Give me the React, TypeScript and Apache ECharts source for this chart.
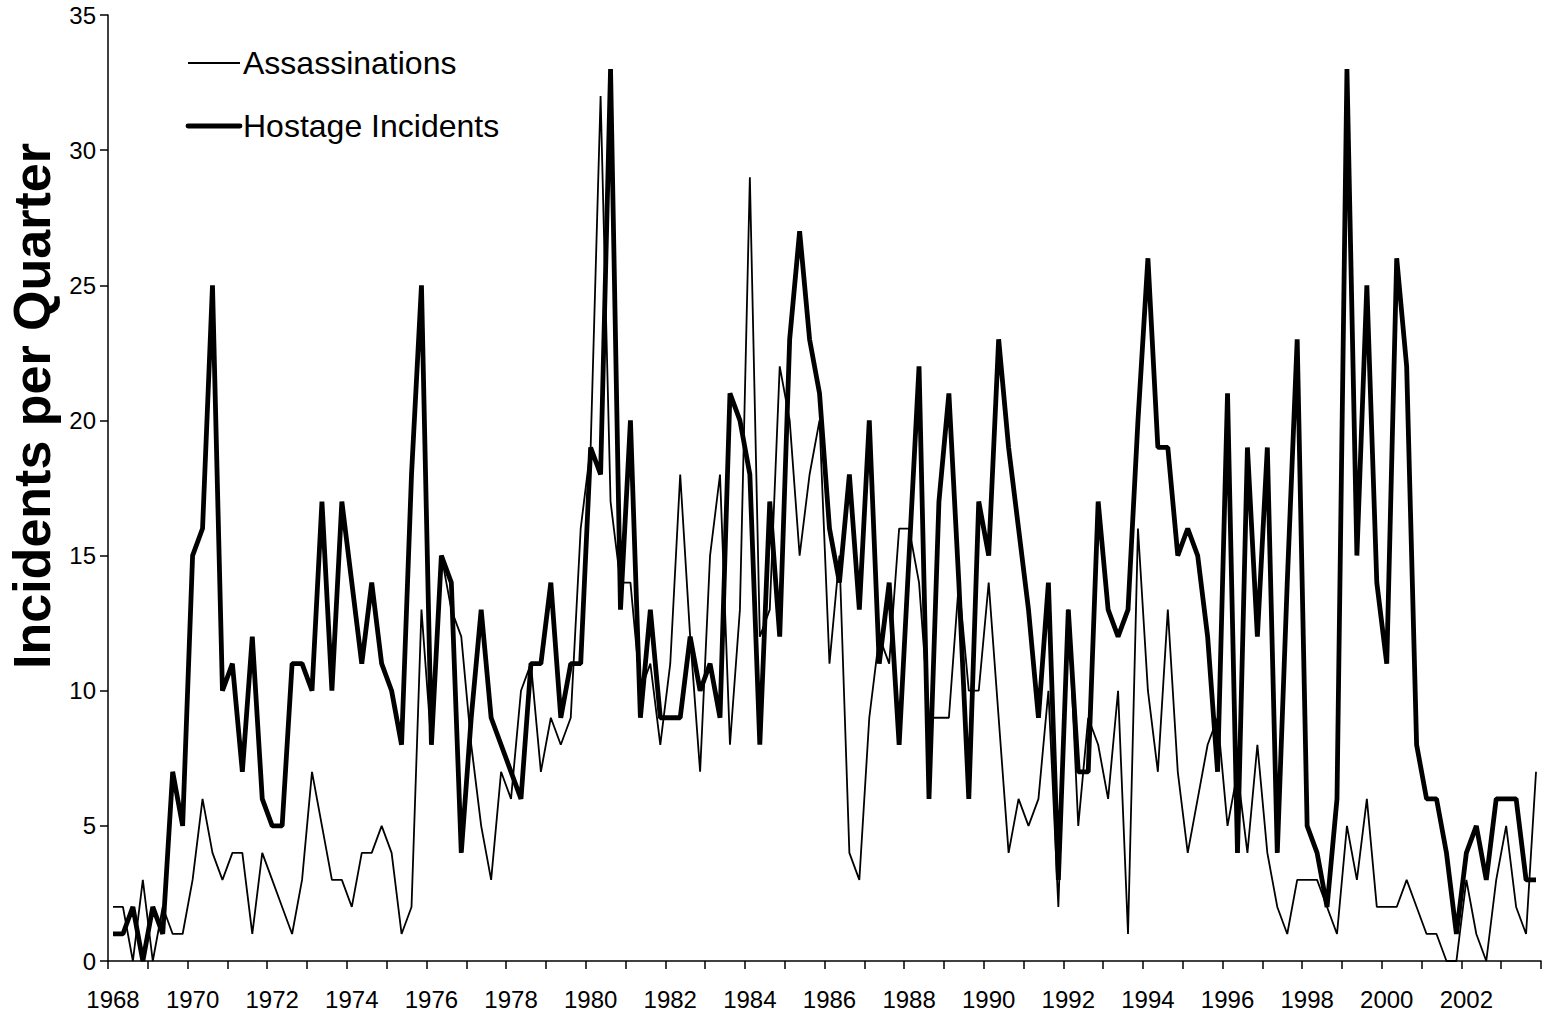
import React, { useEffect, useRef } from "react";
import * as echarts from "echarts";

const years = [
  1968, 1969, 1970, 1971, 1972, 1973, 1974, 1975, 1976, 1977, 1978, 1979,
  1980, 1981, 1982, 1983, 1984, 1985, 1986, 1987, 1988, 1989, 1990, 1991,
  1992, 1993, 1994, 1995, 1996, 1997, 1998, 1999, 2000, 2001, 2002, 2003,
];
const quarterNames = ["Q1", "Q2", "Q3", "Q4"];
const categories = years.flatMap((y) => quarterNames.map((q) => `${y} ${q}`));

const assassinations = [
  2, 2, 0, 3, 0, 2, 1, 1, 3, 6, 4, 3,
  4, 4, 1, 4, 3, 2, 1, 3, 7, 5, 3, 3,
  2, 4, 4, 5, 4, 1, 2, 13, 8, 15, 13, 12,
  8, 5, 3, 7, 6, 10, 11, 7, 9, 8, 9, 16,
  19, 32, 17, 14, 14, 10, 11, 8, 11, 18, 12, 7,
  15, 18, 8, 13, 29, 12, 13, 22, 20, 15, 18, 20,
  11, 15, 4, 3, 9, 12, 11, 16, 16, 14, 9, 9,
  9, 14, 10, 10, 14, 9, 4, 6, 5, 6, 10, 2,
  13, 5, 9, 8, 6, 10, 1, 16, 10, 7, 13, 7,
  4, 6, 8, 9, 5, 7, 4, 8, 4, 2, 1, 3,
  3, 3, 2, 1, 5, 3, 6, 2, 2, 2, 3, 2,
  1, 1, 0, 0, 3, 1, 0, 3, 5, 2, 1, 7,
];

const hostageIncidents = [
  1, 1, 2, 0, 2, 1, 7, 5, 15, 16, 25, 10,
  11, 7, 12, 6, 5, 5, 11, 11, 10, 17, 10, 17,
  14, 11, 14, 11, 10, 8, 18, 25, 8, 15, 14, 4,
  9, 13, 9, 8, 7, 6, 11, 11, 14, 9, 11, 11,
  19, 18, 33, 13, 20, 9, 13, 9, 9, 9, 12, 10,
  11, 9, 21, 20, 18, 8, 17, 12, 23, 27, 23, 21,
  16, 14, 18, 13, 20, 11, 14, 8, 15, 22, 6, 17,
  21, 14, 6, 17, 15, 23, 19, 16, 13, 9, 14, 3,
  13, 7, 7, 17, 13, 12, 13, 20, 26, 19, 19, 15,
  16, 15, 12, 7, 21, 4, 19, 12, 19, 4, 14, 23,
  5, 4, 2, 6, 33, 15, 25, 14, 11, 26, 22, 8,
  6, 6, 4, 1, 4, 5, 3, 6, 6, 6, 3, 3,
];

const seriesNames = ["Assassinations", "Hostage Incidents"];
const yAxisTitle = "Incidents per Quarter";
const yMin = 0;
const yMax = 35;
const yStep = 5;

const FONT = "Liberation Sans, Arial, sans-serif";
const THIN = 1.8;
const THICK = 4.8;

export default function App() {
  const ref = useRef<HTMLDivElement>(null);

  useEffect(() => {
    if (!ref.current) return;
    const chart = echarts.init(ref.current, null, { renderer: "svg" });
    chart.setOption({
      animation: false,
      backgroundColor: "#ffffff",
      textStyle: { fontFamily: FONT, color: "#000" },
      grid: { left: 108, right: 2, top: 15, bottom: 52, containLabel: false },
      xAxis: {
        type: "category",
        data: categories,
        boundaryGap: true,
        axisLine: { show: true, lineStyle: { color: "#000", width: 1.5 } },
        axisTick: { show: true, interval: 3, length: 8, lineStyle: { color: "#000", width: 1.5 } },
        axisLabel: {
          interval: 7,
          formatter: (v: string) => v.slice(0, 4),
          fontSize: 24,
          color: "#000",
          fontFamily: FONT,
          margin: 26,
        },
        splitLine: { show: false },
      },
      yAxis: {
        type: "value",
        min: yMin,
        max: yMax,
        interval: yStep,
        axisLine: { show: true, lineStyle: { color: "#000", width: 1.5 } },
        axisTick: { show: true, length: 8, lineStyle: { color: "#000", width: 1.5 } },
        axisLabel: { fontSize: 24, color: "#000", fontFamily: FONT, margin: 12 },
        splitLine: { show: false },
      },
      graphic: [
        {
          type: "text",
          x: 32,
          y: 406,
          rotation: Math.PI / 2,
          style: {
            text: yAxisTitle,
            font: `bold 52px ${FONT}`,
            fill: "#000",
            textAlign: "center",
            textVerticalAlign: "middle",
          },
        },
        {
          type: "line",
          shape: { x1: 188, y1: 63, x2: 240, y2: 63 },
          style: { stroke: "#000", lineWidth: THIN },
        },
        {
          type: "text",
          x: 243,
          y: 63,
          style: {
            text: seriesNames[0],
            font: `32px ${FONT}`,
            fill: "#000",
            textAlign: "left",
            textVerticalAlign: "middle",
          },
        },
        {
          type: "line",
          shape: { x1: 188, y1: 126, x2: 240, y2: 126 },
          style: { stroke: "#000", lineWidth: THICK, lineCap: "round" },
        },
        {
          type: "text",
          x: 243,
          y: 126,
          style: {
            text: seriesNames[1],
            font: `32px ${FONT}`,
            fill: "#000",
            textAlign: "left",
            textVerticalAlign: "middle",
          },
        },
      ],
      series: [
        {
          name: seriesNames[0],
          type: "line",
          data: assassinations,
          symbol: "none",
          lineStyle: { color: "#000", width: THIN },
          itemStyle: { color: "#000" },
        },
        {
          name: seriesNames[1],
          type: "line",
          data: hostageIncidents,
          symbol: "none",
          lineStyle: { color: "#000", width: THICK },
          itemStyle: { color: "#000" },
        },
      ],
    });
    return () => chart.dispose();
  }, []);

  return (
    <div
      ref={ref}
      style={{ position: "fixed", left: 0, top: 0, width: 1543, height: 1013, background: "#fff" }}
    />
  );
}
